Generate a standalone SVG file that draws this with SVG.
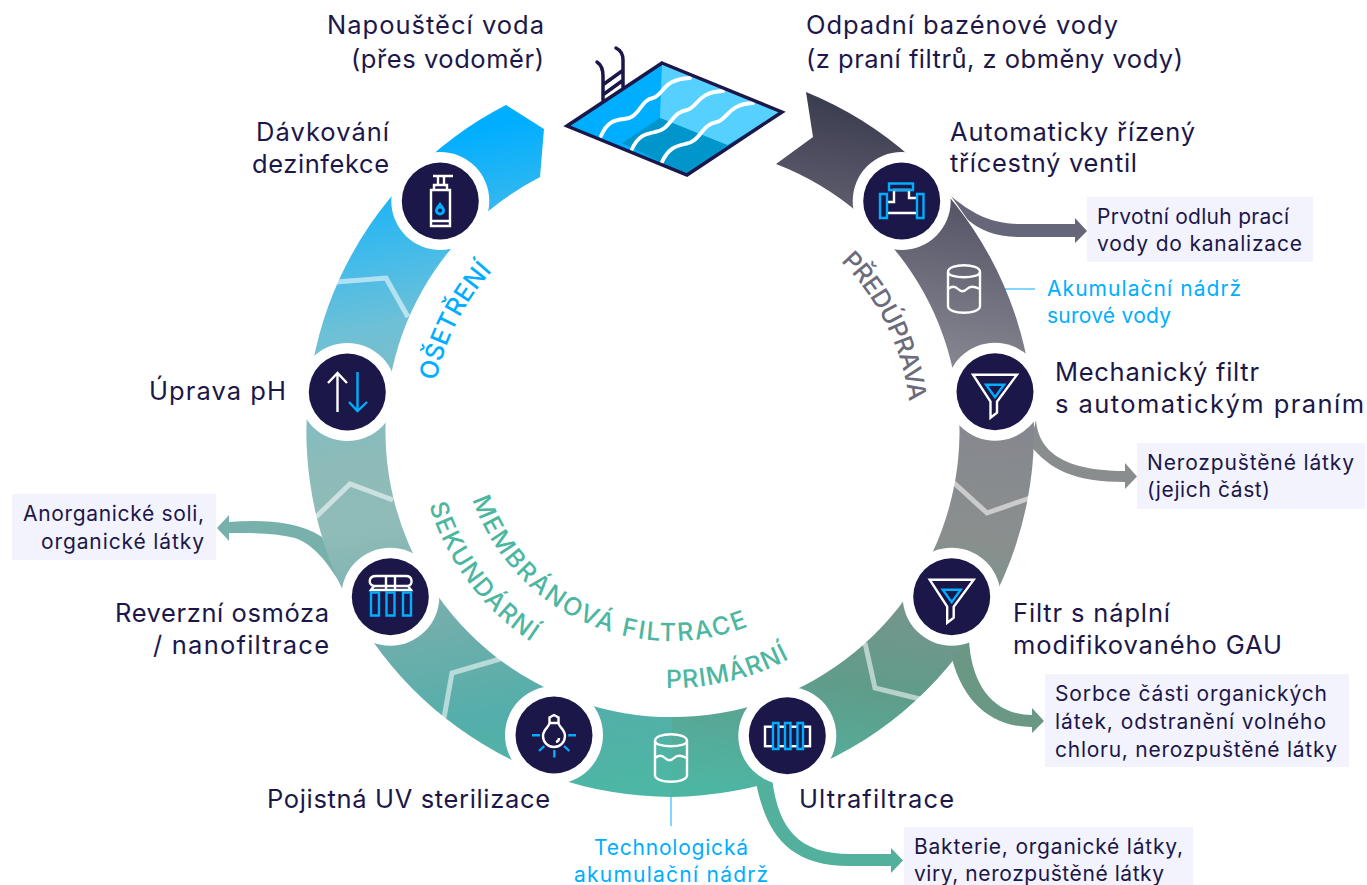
<svg xmlns="http://www.w3.org/2000/svg" xmlns:xlink="http://www.w3.org/1999/xlink" width="1367" height="885" viewBox="0 0 1367 885">
<style>
text{font-family:"Inter","Noto Sans","Liberation Sans",sans-serif}
.lab{font-size:25.500px;fill:#1c1749}
.box{fill:#f3f3fd}
.bt{font-size:21px;fill:#1c1749}
.bl{font-size:21px;fill:#00aeff}
.arc{font-size:25px;font-weight:500}
.halo{fill:#fff}
.disc{fill:#1c1749}
.w{fill:none;stroke:#fff;stroke-width:2.400}
.c{fill:none;stroke:#00aeff;stroke-width:2.400}
.chev{fill:none;stroke:#fff;stroke-width:5;stroke-opacity:.55}
.cyl{fill:none;stroke:#fff;stroke-width:2.400}
.wave{fill:none;stroke:#fff;stroke-width:3.800;stroke-linecap:round}
.pn{fill:none;stroke:#1c1749;stroke-width:3.500}
</style>
<defs>
<linearGradient id="gR" gradientUnits="userSpaceOnUse" x1="840" y1="100" x2="720" y2="790">
<stop offset="0" stop-color="#3c3c50"/>
<stop offset=".33" stop-color="#83838f"/>
<stop offset=".58" stop-color="#8a8f8e"/>
<stop offset=".82" stop-color="#609c8a"/>
<stop offset="1" stop-color="#4db6a3"/>
</linearGradient>
<linearGradient id="gL" gradientUnits="userSpaceOnUse" x1="600" y1="790" x2="470" y2="130">
<stop offset="0" stop-color="#4db6a4"/>
<stop offset=".14" stop-color="#54aeaa"/>
<stop offset=".29" stop-color="#72aeac"/>
<stop offset=".45" stop-color="#90bcb8"/>
<stop offset=".56" stop-color="#8cbbb9"/>
<stop offset=".74" stop-color="#6ec0d6"/>
<stop offset=".83" stop-color="#48bce8"/>
<stop offset="1" stop-color="#00aeff"/>
</linearGradient>
<g id="funnel">
<path class="w" d="M-22-17H22L2 10V21L-4.500 26V10Z"/>
<path class="c" d="M-9-7H9L0 5.500Z"/>
</g>
<g id="cyl">
<path class="cyl" d="M-16-17C-16-26 16-26 16-17V17C16 26-16 26-16 17Z"/>
<path class="cyl" d="M-16-17C-16-10 16-10 16-17"/>
<path class="cyl" d="M-16 0C-12-3-9-3-6 0S0 3 3 0 9-3 16 0"/>
</g>
</defs>

<g id="connectors">
<path fill="#66667a" d="M951 196C970 212 990 224 1020 224H1075V218L1087 231L1075 243V237H1020C995 237 980 230 968 220Z"/>
<path fill="#8a8d8d" d="M1036 420C1038 445 1055 471 1125 471V463L1137 476.500L1125 489V482C1075 482 1050 470 1030 445Z"/>
<path fill="#6a9884" d="M969 640C971 680 990 715 1032 715V708L1044 721L1032 733V727C990 727 960 700 950 650Z"/>
<path fill="#52b09c" d="M772 778C778 830 800 854 850 854H891V848L903 860.500L891 873V866H850C785 866 765 830 755 778Z"/>
<path fill="#78b1ac" d="M229 522C260 520 295 520 322 537L345 592C330 565 315 545 295 538C275 533 255 533 229 533V541L217 528L229 515Z"/>
<path stroke="#00aeff" stroke-width="1" d="M988 289H1035"/>
<path stroke="#5cc8ff" stroke-width="1.500" d="M671 790V826"/>
</g>

<g id="ring">
<path fill="url(#gR)" d="M806 92L813 137L776 164A286 286 0 0 1 671 717V797A366 366 0 0 0 806 92Z"/>
<path fill="url(#gL)" d="M672 717A286 286 0 0 1 540 177L544 129L506 105A366 366 0 0 0 672 797Z"/>
<path class="chev" d="M336 282L386 278L408 317"/>
<path class="chev" d="M953 482L987 513L1030 498"/>
<path class="chev" d="M865 643L875 688L920 699"/>
<path class="chev" d="M316 517L350 484L393 500"/>
<path class="chev" d="M444 718L452 673L500 659"/>
</g>

<g id="pool">
<path class="pn" stroke-linecap="round" d="M603 100V76C603 68 600 64 597 62M623 87V60C623 53 620 50 616 48M604 84L622 71M604 94L622 81"/>
<path fill="#00aeff" d="M662 63L782 112L687 175L567 126Z"/>
<path fill="#55d0ff" d="M662 63L782 112L727 145L660 118Z"/>
<path fill="#0096cc" d="M622 143L660 118L727 145L687 175Z"/>
<path class="wave" d="M601 136C607 122 614 120 624 119C640 118 640 100 653 98C664 95 662 79 690 78"/>
<path class="wave" d="M632 149C638 136 645 134 655 132C671 130 671 112 687 110C698 107 697 92 723 91"/>
<path class="wave" d="M662 162C668 149 675 146 685 144C701 142 701 124 717 122C728 119 728 104 753 103"/>
<path fill="none" stroke="#1c1749" stroke-width="3.500" d="M662 63L782 112L687 175L567 126Z"/>
</g>

<g id="n-dose">
<circle class="halo" cx="440.300" cy="201" r="49"/><circle class="disc" cx="440.300" cy="201" r="38.500"/>
<path class="w" d="M433 176H453M438 177V185H444V177M434 190V185H447V190M431 190H450V226H431ZM431 221H450"/>
<path fill="#00aeff" d="M440 202C443 206 445 208 445 210.500A5 5 0 0 1 435 210.500C435 208 437 206 440 202Z"/>
<circle fill="#1c1749" cx="440" cy="210.500" r="2"/>
</g>

<g id="n-ph">
<circle class="halo" cx="347.300" cy="392" r="49"/><circle class="disc" cx="347.300" cy="392" r="38.500"/>
<path class="w" d="M337.500 412V374M328 383L337.500 373L347 383"/>
<path class="c" d="M357.500 372V411M349 402L357.500 411L367 402"/>
</g>

<g id="n-ro">
<circle class="halo" cx="390.300" cy="596.700" r="49"/><circle class="disc" cx="390.300" cy="596.700" r="38.500"/>
<path class="w" d="M376 576H406C413 576 413 585 408 586L411 590H371L374 586C368 585 368 576 376 576ZM374 586H408M386 576V590M395 576V590"/>
<path class="c" d="M371 592.500H379V615.500H371ZM386.500 592.500H394.500V615.500H386.500ZM403 592.500H411V615.500H403Z"/>
</g>

<g id="n-uv">
<circle class="halo" cx="554" cy="735" r="49"/><circle class="disc" cx="554" cy="735" r="38.500"/>
<path class="w" d="M549.500 723V717.500L554 715L558.500 717.500V723M549.500 723H558.500C558.500 727 565 729 565 736A11 11 0 0 1 543 736C543 729 549.500 727 549.500 723ZM559 738C559 740.500 558 741.500 556 742"/>
<path class="c" d="M532 735.300H540M568.300 735.300H576M554.300 750V757.500M544.300 746L539 751M564 746L569.300 751"/>
</g>

<g id="n-uf">
<circle class="halo" cx="787.300" cy="735.700" r="49"/><circle class="disc" cx="787.300" cy="735.700" r="38.500"/>
<rect class="w" x="765" y="726.700" width="45" height="19.500"/>
<path class="c" style="fill:#1c1749" d="M773 723H778.500V749H773ZM785 723H790.500V749H785ZM797.500 723H803V749H797.500Z"/>
</g>

<g id="n-gau">
<circle class="halo" cx="951.700" cy="596.700" r="49"/><circle class="disc" cx="951.700" cy="596.700" r="38.500"/>
<use href="#funnel" x="951.700" y="596.700"/>
</g>

<g id="n-mech">
<circle class="halo" cx="995" cy="391.700" r="49"/><circle class="disc" cx="995" cy="391.700" r="38.500"/>
<use href="#funnel" x="995" y="391.700"/>
</g>

<g id="n-valve">
<circle class="halo" cx="901.700" cy="201" r="49"/><circle class="disc" cx="901.700" cy="201" r="38.500"/>
<path class="w" d="M887 202H894V190H909V198H917M887 213H917"/>
<path class="c" d="M889 183.500H913V190H889ZM880 194H887V218H880ZM917 194H923.500V218H917Z"/>
</g>

<g id="n-tank1"><use href="#cyl" x="964" y="289"/></g>
<g id="n-tank2"><use href="#cyl" x="671" y="758"/></g>

<g id="ring-labels">
<path id="pO" fill="none" d="M436.200 381.100A240 240 0 0 1 492.600 270.400"/>
<path id="pP" fill="none" d="M840.700 261.300A240 240 0 0 1 909.200 401.800"/>
<path id="pM" fill="none" d="M472.400 499.400A210 210 0 0 0 748.300 626.300"/>
<path id="pS" fill="none" d="M429 505A253 253 0 0 0 531 641.700"/>
<path id="pR" fill="none" d="M665.900 688A257 257 0 0 0 791.200 658"/>
<text class="arc" fill="#00aeff"><textPath href="#pO" textLength="125">OŠETŘENÍ</textPath></text>
<text class="arc" fill="#6b6b7b"><textPath href="#pP" textLength="159">PŘEDÚPRAVA</textPath></text>
<text class="arc" fill="#4db6a0"><textPath href="#pM" textLength="339">MEMBRÁNOVÁ FILTRACE</textPath></text>
<text class="arc" fill="#4db6a0"><textPath href="#pS" textLength="174">SEKUNDÁRNÍ</textPath></text>
<text class="arc" fill="#4db6a0"><textPath href="#pR" textLength="128">PRIMÁRNÍ</textPath></text>
</g>

<g id="labels">
<text class="lab" x="327" y="34" textLength="217">Napouštěcí voda</text>
<text class="lab" x="351" y="68" textLength="193">(přes vodoměr)</text>
<text class="lab" x="806" y="34" textLength="312">Odpadní bazénové vody</text>
<text class="lab" x="806" y="68" textLength="377">(z praní filtrů, z obměny vody)</text>
<text class="lab" x="950" y="141" textLength="245">Automaticky řízený</text>
<text class="lab" x="950" y="172" textLength="187">třícestný ventil</text>
<text class="lab" x="256" y="141" textLength="133">Dávkování</text>
<text class="lab" x="252" y="173" textLength="137">dezinfekce</text>
<text class="lab" x="149" y="400" textLength="137">Úprava pH</text>
<text class="lab" x="1055" y="381" textLength="204">Mechanický filtr</text>
<text class="lab" x="1055" y="413" textLength="309">s automatickým praním</text>
<text class="lab" x="1013" y="622" textLength="157">Filtr s náplní</text>
<text class="lab" x="1013" y="654" textLength="269">modifikovaného GAU</text>
<text class="lab" x="799" y="808" textLength="155">Ultrafiltrace</text>
<text class="lab" x="267" y="808" textLength="283">Pojistná UV sterilizace</text>
<text class="lab" x="115" y="622" textLength="214">Reverzní osmóza</text>
<text class="lab" x="153" y="654" textLength="176">/ nanofiltrace</text>
</g>

<g id="box-odluh"><rect class="box" x="1087" y="197" width="226" height="65"/>
<text class="bt" x="1097" y="224" textLength="192">Prvotní odluh prací</text>
<text class="bt" x="1097" y="251" textLength="205">vody do kanalizace</text></g>
<g id="box-nerozp"><rect class="box" x="1137" y="443" width="228" height="66"/>
<text class="bt" x="1147" y="470" textLength="207">Nerozpuštěné látky</text>
<text class="bt" x="1147" y="497" textLength="123">(jejich část)</text></g>
<g id="box-sorbce"><rect class="box" x="1045" y="674" width="304" height="93"/>
<text class="bt" x="1055" y="701" textLength="272">Sorbce části organických</text>
<text class="bt" x="1055" y="729" textLength="271">látek, odstranění volného</text>
<text class="bt" x="1055" y="757" textLength="282">chloru, nerozpuštěné látky</text></g>
<g id="box-bakterie"><rect class="box" x="904" y="827" width="289" height="58"/>
<text class="bt" x="914" y="854" textLength="269">Bakterie, organické látky,</text>
<text class="bt" x="914" y="881" textLength="250">viry, nerozpuštěné látky</text></g>
<g id="box-soli"><rect class="box" x="12" y="494" width="204" height="66"/>
<text class="bt" x="23" y="521" textLength="181">Anorganické soli,</text>
<text class="bt" x="41" y="549" textLength="163">organické látky</text></g>

<g id="tank-labels">
<text class="bl" x="1047" y="296" textLength="194">Akumulační nádrž</text>
<text class="bl" x="1047" y="323" textLength="124">surové vody</text>
<text class="bl" x="594" y="855" textLength="154">Technologická</text>
<text class="bl" x="574" y="882" textLength="194">akumulační nádrž</text>
</g>
</svg>
